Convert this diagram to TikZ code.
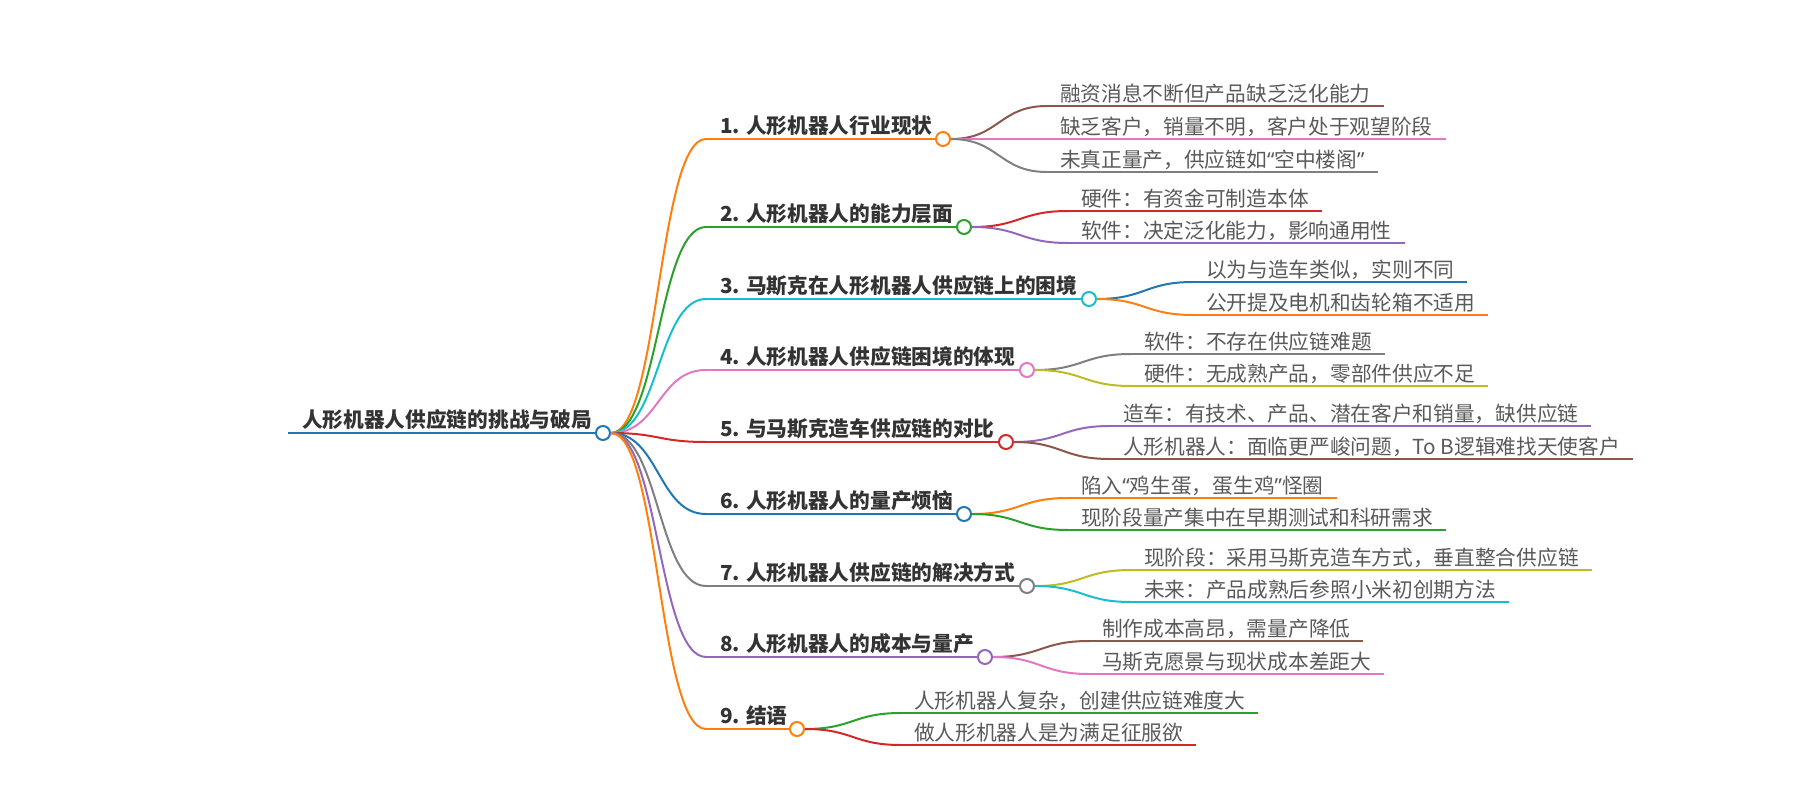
\documentclass[tikz,border=0pt]{standalone}
\usepackage{fontspec}
\setmainfont{Noto Sans CJK SC}
\newfontfamily\quotefont{Noto Sans}
\newcommand\openq{{\quotefont “}}
\newcommand\closeq{{\quotefont ”}}
\definecolor{mmblue}{HTML}{1F77B4}
\definecolor{mmorange}{HTML}{FF7F0E}
\definecolor{mmgreen}{HTML}{2CA02C}
\definecolor{mmred}{HTML}{D62728}
\definecolor{mmpurple}{HTML}{9467BD}
\definecolor{mmbrown}{HTML}{8C564B}
\definecolor{mmpink}{HTML}{E377C2}
\definecolor{mmgray}{HTML}{7F7F7F}
\definecolor{mmolive}{HTML}{BCBD22}
\definecolor{mmcyan}{HTML}{17BECF}
\begin{document}
\begin{tikzpicture}[
  x=1pt, y=-1pt,
  line width=2pt,
  font=\fontsize{20.7}{25}\selectfont,
  dot/.style={circle, draw=#1, fill=white, line width=2pt, minimum size=14pt, inner sep=0pt},
  branch/.style={anchor=south west, inner xsep=13pt, inner ysep=0pt, text depth=5pt, text height=16pt, text=black!80, font=\fontsize{20.7}{25}\selectfont\bfseries},
  leaf/.style={anchor=south west, inner xsep=12pt, inner ysep=0pt, text depth=4pt, text height=16pt, text=black!65},
  link/.style={out=0, in=180, distance=48pt},
]
\useasboundingbox (0,0) rectangle (1800,800);

% root
\node[branch] (root) at (288,433) {人形机器人供应链的挑战与破局};
\node[dot=mmblue] (c0) at (603,433) {};
\draw[mmblue, line width=2.5pt] (root.south west) -- (c0.west);

% main branches
\foreach \i/\y/\cx/\col/\txt in {
  1/139/943/mmorange/{1. 人形机器人行业现状},
  2/227/964/mmgreen/{2. 人形机器人的能力层面},
  3/299/1089/mmcyan/{3. 马斯克在人形机器人供应链上的困境},
  4/370/1027/mmpink/{4. 人形机器人供应链困境的体现},
  5/442/1006/mmred/{5. 与马斯克造车供应链的对比},
  6/514/964/mmblue/{6. 人形机器人的量产烦恼},
  7/586/1027/mmgray/{7. 人形机器人供应链的解决方式},
  8/657/985/mmpurple/{8. 人形机器人的成本与量产},
  9/729/797/mmorange/{9. 结语}} {
  \node[branch] (b\i) at (706,\y) {\txt};
  \node[dot=\col] (c\i) at (\cx,\y) {};
  \draw[\col] (c0.east) to[link] (b\i.south west);
  \draw[\col] (b\i.south west) -- (c\i.west);
}

% leaves
\foreach \i/\j/\x/\y/\col/\txt in {
  1/1/1047/106/mmbrown/{融资消息不断但产品缺乏泛化能力},
  1/2/1047/139/mmpink/{缺乏客户，销量不明，客户处于观望阶段},
  1/3/1047/172/mmgray/{未真正量产，供应链如\openq 空中楼阁\closeq},
  2/1/1068/211/mmred/{硬件：有资金可制造本体},
  2/2/1068/243/mmpurple/{软件：决定泛化能力，影响通用性},
  3/1/1193/282/mmblue/{以为与造车类似，实则不同},
  3/2/1193/315/mmorange/{公开提及电机和齿轮箱不适用},
  4/1/1131/354/mmgray/{软件：不存在供应链难题},
  4/2/1131/386/mmolive/{硬件：无成熟产品，零部件供应不足},
  5/1/1110/426/mmpurple/{造车：有技术、产品、潜在客户和销量，缺供应链},
  5/2/1110/459/mmbrown/{人形机器人：面临更严峻问题，To B逻辑难找天使客户},
  6/1/1068/498/mmorange/{陷入\openq 鸡生蛋，蛋生鸡\closeq 怪圈},
  6/2/1068/530/mmgreen/{现阶段量产集中在早期测试和科研需求},
  7/1/1131/570/mmolive/{现阶段：采用马斯克造车方式，垂直整合供应链},
  7/2/1131/602/mmcyan/{未来：产品成熟后参照小米初创期方法},
  8/1/1089/641/mmbrown/{制作成本高昂，需量产降低},
  8/2/1089/674/mmpink/{马斯克愿景与现状成本差距大},
  9/1/901/713/mmgreen/{人形机器人复杂，创建供应链难度大},
  9/2/901/745/mmred/{做人形机器人是为满足征服欲}} {
  \node[leaf] (k\i\j) at (\x,\y) {\txt};
  \draw[\col] (c\i.east) to[link] (k\i\j.south west);
  \draw[\col] (k\i\j.south west) -- (k\i\j.south east);
}
\end{tikzpicture}
\end{document}
